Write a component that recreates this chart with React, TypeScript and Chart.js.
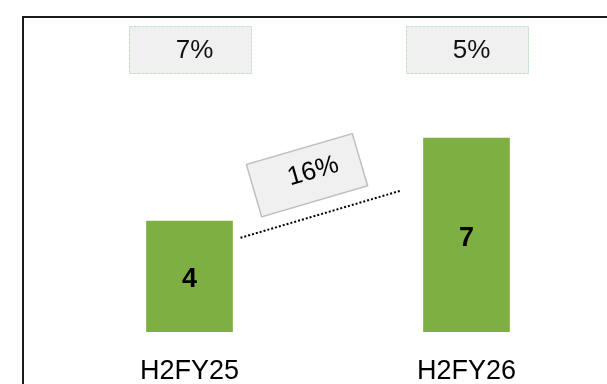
import React, { useEffect, useRef } from "react";
import { Chart, registerables } from "chart.js";

Chart.register(...registerables);

const categories = ["H2FY25", "H2FY26"];
const values = [4, 7];
const growthLabels = ["7%", "5%"];
const cagrLabel = "16%";
const connectorFrom = 3.4;
const connectorTo = 5.1;
const cagrBoxLevel = 5.66;

const FONT = '"Liberation Sans", Arial, Helvetica, sans-serif';
const GREEN = "#7eaf42";

const annotations = {
  id: "annotations",
  afterDatasetsDraw(chart: any) {
    const ctx = chart.ctx as CanvasRenderingContext2D;
    const meta = chart.getDatasetMeta(0);
    const y = chart.scales.y;
    ctx.save();

    // frame (top and left edges)
    ctx.strokeStyle = "#1c1c1c";
    ctx.lineWidth = 2;
    ctx.beginPath();
    ctx.moveTo(23, chart.height + 2);
    ctx.lineTo(23, 17);
    ctx.lineTo(chart.width + 2, 17);
    ctx.stroke();

    ctx.textAlign = "center";
    ctx.textBaseline = "middle";

    meta.data.forEach((bar: any, i: number) => {
      const p = bar.getProps(["x", "y", "base", "width"], true);
      ctx.fillStyle = "#000";
      ctx.font = `bold 27px ${FONT}`;
      ctx.fillText(String(values[i]), p.x, (p.y + p.base) / 2 + 3);

      const cx = p.x + 1;
      ctx.fillStyle = "#f0f0f0";
      ctx.fillRect(cx - 61.5, 26, 123, 48);
      ctx.strokeStyle = "#bfe3c7";
      ctx.lineWidth = 1;
      ctx.setLineDash([3, 1]);
      ctx.strokeRect(cx - 61, 26.5, 122, 47);
      ctx.setLineDash([]);
      ctx.fillStyle = "#111";
      ctx.font = `26px ${FONT}`;
      ctx.fillText(growthLabels[i], cx + 4, 51);
    });

    const b0 = meta.data[0].getProps(["x", "y", "width"], true);
    const b1 = meta.data[1].getProps(["x", "y", "width"], true);

    // dotted connector
    const x0 = b0.x + b0.width / 2 + 8;
    const y0 = y.getPixelForValue(connectorFrom);
    const x1 = b1.x - b1.width / 2 - 23;
    const y1 = y.getPixelForValue(connectorTo);
    ctx.strokeStyle = "#000";
    ctx.lineWidth = 2;
    ctx.setLineDash([2, 2]);
    ctx.beginPath();
    ctx.moveTo(x0, y0);
    ctx.lineTo(x1, y1);
    ctx.stroke();
    ctx.setLineDash([]);

    // CAGR box
    const cx = (b0.x + b1.x) / 2 - 21;
    const cy = y.getPixelForValue(cagrBoxLevel);
    ctx.translate(cx, cy);
    ctx.rotate((-16.3 * Math.PI) / 180);
    ctx.fillStyle = "#f0f0f0";
    ctx.fillRect(-55.2, -27.2, 110.4, 54.4);
    ctx.strokeStyle = "#bfbfbf";
    ctx.lineWidth = 1.5;
    ctx.strokeRect(-55.2, -27.2, 110.4, 54.4);
    ctx.fillStyle = "#000";
    ctx.font = `26px ${FONT}`;
    ctx.fillText(cagrLabel, 7, -2);

    ctx.restore();
  },
};

export default function App() {
  const ref = useRef<HTMLCanvasElement>(null);
  useEffect(() => {
    if (!ref.current) return;
    const chart = new Chart(ref.current, {
      type: "bar",
      data: {
        labels: categories,
        datasets: [
          {
            data: values,
            backgroundColor: GREEN,
            borderWidth: 0,
            barThickness: 86,
          },
        ],
      },
      options: {
        responsive: false,
        animation: false,
        devicePixelRatio: 1,
        layout: { padding: { top: 55, left: 51, right: 2, bottom: 0 } },
        plugins: { legend: { display: false }, tooltip: { enabled: false } },
        scales: {
          x: {
            grid: { display: false, drawTicks: false },
            border: { display: false },
            ticks: {
              color: "#000",
              font: { family: FONT, size: 27, lineHeight: 1.2 },
              padding: 23,
            },
            afterFit: (axis: any) => {
              axis.height = 52;
            },
          },
          y: { display: false, min: 0, max: 10 },
        },
      },
      plugins: [annotations],
    });
    return () => chart.destroy();
  }, []);
  return (
    <div style={{ position: "fixed", left: 0, top: 0, width: 607, height: 384, background: "#fff" }}>
      <canvas ref={ref} width={607} height={384} style={{ display: "block" }} />
    </div>
  );
}
